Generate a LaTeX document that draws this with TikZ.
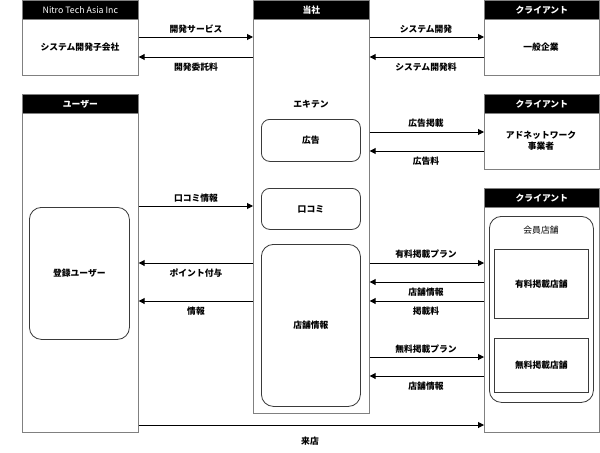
\documentclass[tikz,border=0pt]{standalone}
\usepackage{fontspec}
\setmainfont{Noto Sans CJK JP}
\usetikzlibrary{arrows.meta}
\definecolor{boxgray}{HTML}{808080}
\definecolor{inkgray}{HTML}{3A3A3A}

\begin{document}
\begin{tikzpicture}[x=0.03cm, y=-0.03cm,
    font=\fontsize{7.5}{9}\selectfont\bfseries,
    box/.style 2 args={draw=boxgray, line width=0.6pt, anchor=north west,
      inner sep=0pt, minimum width=#1*0.03cm, minimum height=#2*0.03cm},
    head/.style={fill=black, draw=boxgray, line width=0.6pt, text=white,
      anchor=north west, inner sep=0pt, minimum width=#1*0.03cm,
      minimum height=19*0.03cm},
    soft/.style 2 args={draw=inkgray, line width=0.7pt, anchor=north west,
      inner sep=0pt, minimum width=#1*0.03cm, minimum height=#2*0.03cm},
    arr/.style={-{Triangle[length=5pt,width=5pt]}, line width=0.8pt}]
  \useasboundingbox (0,0) rectangle (600,452);

  % outer boxes
  \node[box={116}{75}] (nitro) at (22,0) {};
  \node[box={116}{413}] (tosha) at (253,0) {};
  \node[box={115}{75}] (ippan) at (484,0) {};
  \node[box={116}{338}] (user) at (22,94) {};
  \node[box={115}{75}] (adnet) at (484,94) {};
  \node[box={115}{244}] (member) at (484,188) {};

  % header bars
  \node[head=116, font=\fontsize{7.5}{9}\selectfont\mdseries] (nitrohd) at (22,0) {Nitro Tech Asia Inc};
  \node[head=116] (toshahd) at (253,0) {当社};
  \node[head=115] (ippanhd) at (484,0) {クライアント};
  \node[head=116] (userhd) at (22,94) {ユーザー};
  \node[head=115] (adnethd) at (484,94) {クライアント};
  \node[head=115] (memberhd) at (484,188) {クライアント};

  % texts in the boxes
  \node (devco) at (80,47) {システム開発子会社};
  \node (corp) at (541,47) {一般企業};
  \node[align=center] (adbiz) at (541,141) {アドネットワーク\\事業者};
  \node (ekiten) at (311,104) {エキテン};

  % inner boxes
  \node[soft={99}{42}, rounded corners=2.5mm] (ad) at (261,119) {広告};
  \node[soft={99}{41}, rounded corners=2.5mm] (review) at (261,188) {口コミ};
  \node[soft={99}{162}, rounded corners=3.6mm] (shopinfo) at (261,244) {店舗情報};
  \node[soft={100}{132}, rounded corners=3.6mm] (reguser) at (29,207) {登録ユーザー};
  \node[soft={104}{186}, rounded corners=3.6mm] (kaiin) at (489,216) {};
  \node[font=\fontsize{7.5}{9}\selectfont\mdseries] (kaiinlbl) at (541,230) {会員店舗};
  \node[soft={94}{69}] (paid) at (494,249) {有料掲載店舗};
  \node[soft={94}{54}] (free) at (494,338) {無料掲載店舗};

  % left side -> 当社
  \foreach \src/\y/\ly/\txt in {nitro/37/29/開発サービス, user/206/198/口コミ情報} {
    \draw[arr] (\src.east |- 0,\y) -- (tosha.west |- 0,\y);
    \node (a\y) at (196,\ly) {\txt};
  }
  % 当社 -> left side
  \foreach \dst/\y/\ly/\txt in {nitro/57/67/開発委託料, user/263/273/ポイント付与, user/301/311/情報} {
    \draw[arr] (tosha.west |- 0,\y) -- (\dst.east |- 0,\y);
    \node (b\y) at (196,\ly) {\txt};
  }
  % 当社 -> clients
  \foreach \dst/\y/\ly/\txt in {ippan/37/29/システム開発, adnet/132/123/広告掲載,
      member/263/254/有料掲載プラン, member/357/349/無料掲載プラン} {
    \draw[arr] (tosha.east |- 0,\y) -- (\dst.west |- 0,\y);
    \node (c\y) at (426,\ly) {\txt};
  }
  % clients -> 当社
  \foreach \src/\y/\ly/\txt in {ippan/57/67/システム開発料, adnet/151/161/広告料,
      member/282/292/店舗情報, member/301/311/掲載料, member/376/386/店舗情報} {
    \draw[arr] (\src.west |- 0,\y) -- (tosha.east |- 0,\y);
    \node (d\y) at (426,\ly) {\txt};
  }

  % user visits the shop
  \draw[arr] (user.east |- 0,425) -- (member.west |- 0,425);
  \node (visit) at (310,441) {来店};
\end{tikzpicture}
\end{document}
